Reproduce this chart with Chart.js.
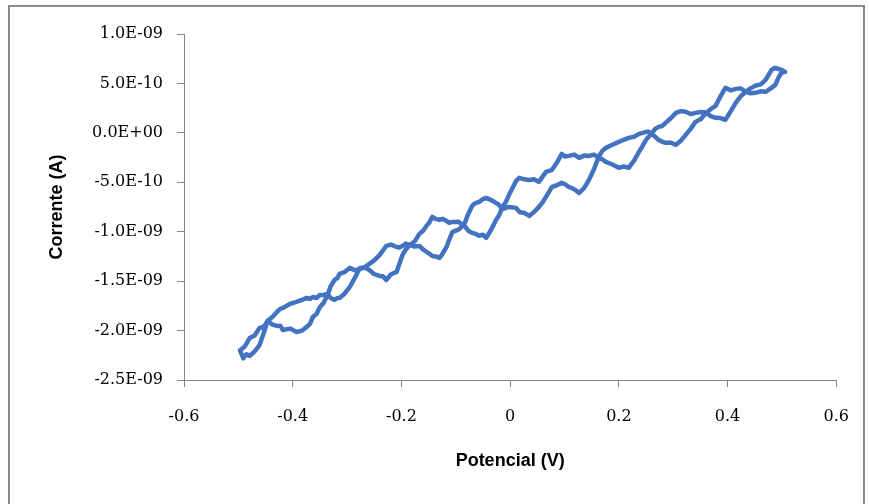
<!DOCTYPE html>
<html>
<head>
<meta charset="utf-8">
<script src="https://cdn.jsdelivr.net/npm/chart.js@4"></script>
<style>
  html, body { margin: 0; padding: 0; background: #fff; }
  #wrap { position: relative; width: 869px; height: 504px; overflow: hidden; }
  #frame { position: absolute; left: 8px; top: 5px; width: 857px; height: 520px; border: 2px solid #8a8a8a; box-sizing: border-box; pointer-events: none; }
  canvas { position: absolute; left: 0; top: 0; }
</style>
</head>
<body>
<div id="wrap">
  <canvas id="chart" width="869" height="504"></canvas>
  <div id="frame"></div>
</div>
<script>
// forward sweep: potential (V) and current (nA)
const potForward = [-0.497, -0.488, -0.479, -0.470, -0.461, -0.453, -0.446, -0.437, -0.429, -0.423, -0.418, -0.405, -0.393, -0.383, -0.374, -0.368, -0.363, -0.356, -0.350, -0.343, -0.336, -0.330, -0.323, -0.318, -0.314, -0.305, -0.295, -0.286, -0.277, -0.268, -0.259, -0.250, -0.240, -0.234, -0.228, -0.219, -0.209, -0.204, -0.198, -0.192, -0.185, -0.176, -0.167, -0.160, -0.154, -0.149, -0.143, -0.137, -0.130, -0.124, -0.117, -0.112, -0.106, -0.095, -0.084, -0.077, -0.070, -0.064, -0.057, -0.050, -0.044, -0.035, -0.026, -0.020, -0.015, -0.008, -0.002, 0.005, 0.011, 0.017, 0.026, 0.035, 0.044, 0.053, 0.060, 0.066, 0.077, 0.086, 0.095, 0.101, 0.108, 0.118, 0.127, 0.136, 0.145, 0.154, 0.163, 0.170, 0.176, 0.188, 0.200, 0.209, 0.218, 0.228, 0.237, 0.244, 0.250, 0.261, 0.267, 0.273, 0.280, 0.286, 0.296, 0.305, 0.314, 0.323, 0.332, 0.341, 0.351, 0.360, 0.369, 0.378, 0.387, 0.396, 0.406, 0.415, 0.424, 0.433, 0.442, 0.451, 0.461, 0.470, 0.481, 0.488, 0.499, 0.506];
const curForward = [-2.20, -2.16, -2.075, -2.05, -1.974, -1.96, -1.90, -1.94, -1.953, -1.95, -1.994, -1.98, -2.014, -2.00, -1.963, -1.93, -1.862, -1.83, -1.761, -1.72, -1.64, -1.55, -1.488, -1.47, -1.427, -1.41, -1.366, -1.39, -1.38, -1.36, -1.387, -1.43, -1.447, -1.45, -1.488, -1.43, -1.407, -1.33, -1.235, -1.18, -1.14, -1.10, -1.022, -0.99, -0.941, -0.91, -0.850, -0.87, -0.881, -0.87, -0.891, -0.91, -0.901, -0.90, -0.94, -0.99, -1.012, -1.02, -1.042, -1.03, -1.063, -0.98, -0.881, -0.83, -0.76, -0.70, -0.627, -0.55, -0.486, -0.455, -0.47, -0.476, -0.47, -0.496, -0.44, -0.395, -0.374, -0.30, -0.213, -0.24, -0.233, -0.22, -0.253, -0.23, -0.233, -0.22, -0.25, -0.27, -0.294, -0.32, -0.354, -0.34, -0.354, -0.28, -0.192, -0.13, -0.071, 0.0, 0.04, 0.061, 0.07, 0.101, 0.15, 0.202, 0.22, 0.213, 0.19, 0.202, 0.21, 0.205, 0.17, 0.152, 0.15, 0.132, 0.22, 0.304, 0.37, 0.41, 0.45, 0.476, 0.49, 0.536, 0.638, 0.658, 0.638, 0.617];

// reverse sweep
const potReverse = [0.506, 0.499, 0.493, 0.488, 0.481, 0.470, 0.461, 0.451, 0.442, 0.433, 0.424, 0.415, 0.406, 0.396, 0.387, 0.378, 0.369, 0.360, 0.351, 0.341, 0.332, 0.323, 0.314, 0.305, 0.296, 0.286, 0.280, 0.273, 0.261, 0.255, 0.250, 0.244, 0.237, 0.228, 0.218, 0.209, 0.200, 0.188, 0.176, 0.170, 0.163, 0.154, 0.145, 0.136, 0.127, 0.118, 0.108, 0.101, 0.095, 0.086, 0.077, 0.066, 0.060, 0.053, 0.044, 0.035, 0.026, 0.017, 0.011, -0.002, -0.008, -0.015, -0.020, -0.026, -0.035, -0.044, -0.050, -0.057, -0.064, -0.070, -0.077, -0.084, -0.095, -0.106, -0.112, -0.117, -0.124, -0.130, -0.137, -0.143, -0.149, -0.154, -0.160, -0.167, -0.176, -0.185, -0.192, -0.198, -0.204, -0.209, -0.219, -0.228, -0.234, -0.240, -0.250, -0.259, -0.268, -0.277, -0.286, -0.295, -0.305, -0.314, -0.318, -0.323, -0.330, -0.336, -0.343, -0.350, -0.356, -0.363, -0.368, -0.374, -0.383, -0.393, -0.405, -0.418, -0.423, -0.429, -0.437, -0.446, -0.453, -0.461, -0.470, -0.479, -0.485, -0.491, -0.497];
const curReverse = [0.617, 0.607, 0.55, 0.486, 0.455, 0.415, 0.42, 0.405, 0.40, 0.42, 0.45, 0.445, 0.43, 0.455, 0.37, 0.273, 0.24, 0.20, 0.14, 0.111, 0.04, -0.020, -0.08, -0.121, -0.10, -0.101, -0.09, -0.071, -0.01, 0.01, 0.010, 0.0, -0.010, -0.04, -0.051, -0.07, -0.091, -0.12, -0.152, -0.18, -0.24, -0.37, -0.476, -0.56, -0.607, -0.57, -0.547, -0.52, -0.506, -0.53, -0.547, -0.648, -0.70, -0.749, -0.80, -0.840, -0.81, -0.800, -0.759, -0.749, -0.76, -0.77, -0.73, -0.708, -0.68, -0.658, -0.67, -0.698, -0.71, -0.739, -0.82, -0.92, -0.98, -1.002, -1.08, -1.154, -1.22, -1.265, -1.25, -1.245, -1.22, -1.204, -1.18, -1.144, -1.15, -1.13, -1.12, -1.144, -1.16, -1.154, -1.13, -1.144, -1.19, -1.235, -1.29, -1.326, -1.36, -1.37, -1.47, -1.559, -1.63, -1.670, -1.67, -1.690, -1.67, -1.63, -1.64, -1.640, -1.67, -1.660, -1.68, -1.670, -1.69, -1.710, -1.73, -1.771, -1.78, -1.812, -1.86, -1.90, -2.02, -2.146, -2.21, -2.257, -2.24, -2.28, -2.20];

const xTickLabels = ["-0.6", "-0.4", "-0.2", "0", "0.2", "0.4", "0.6"];
const yTickLabels = ["-2.5E-09", "-2.0E-09", "-1.5E-09", "-1.0E-09", "-5.0E-10", "0.0E+00", "5.0E-10", "1.0E-09"];

const points = [];
potForward.forEach((v, i) => points.push({ x: v, y: curForward[i] }));
potReverse.forEach((v, i) => points.push({ x: v, y: curReverse[i] }));

const axisGrey = "#868686";
const tickFont = { family: "DejaVu Serif", size: 16 };
const titleFont = { family: "Liberation Sans", size: 18, weight: "bold" };

new Chart(document.getElementById("chart"), {
	type: "scatter",
	data: {
		datasets: [
			{
				data: points,
				showLine: true,
				borderColor: "#4373c0",
				borderWidth: 4.5,
				pointRadius: 0,
				tension: 0,
				borderJoinStyle: "round",
				borderCapStyle: "round",
			},
		],
	},
	options: {
		responsive: false,
		animation: false,
		layout: { padding: { left: 46, right: 27, top: 34, bottom: 32 } },
		plugins: {
			legend: { display: false },
			tooltip: { enabled: false },
		},
		scales: {
			x: {
				type: "linear",
				min: -0.6,
				max: 0.6,
				afterFit: (s) => { s.height = 92; },
				ticks: {
					stepSize: 0.2,
					color: "#000",
					font: tickFont,
					padding: 20,
					maxRotation: 0,
					callback: (v, i) => xTickLabels[i],
				},
				grid: { drawOnChartArea: false, drawTicks: true, tickLength: 7, color: axisGrey },
				border: { display: true, color: axisGrey, width: 1 },
				title: { display: true, text: "Potencial (V)", color: "#000", font: titleFont, padding: 0 },
			},
			y: {
				type: "linear",
				min: -2.5,
				max: 1.0,
				afterFit: (s) => { s.width = 138; },
				ticks: {
					stepSize: 0.5,
					color: "#000",
					font: tickFont,
					padding: 14,
					callback: (v, i) => yTickLabels[i],
				},
				grid: { drawOnChartArea: false, drawTicks: true, tickLength: 7, color: axisGrey },
				border: { display: true, color: axisGrey, width: 1 },
				title: { display: true, text: "Corrente (A)", color: "#000", font: titleFont, padding: 0 },
			},
		},
	},
});
</script>
</body>
</html>
